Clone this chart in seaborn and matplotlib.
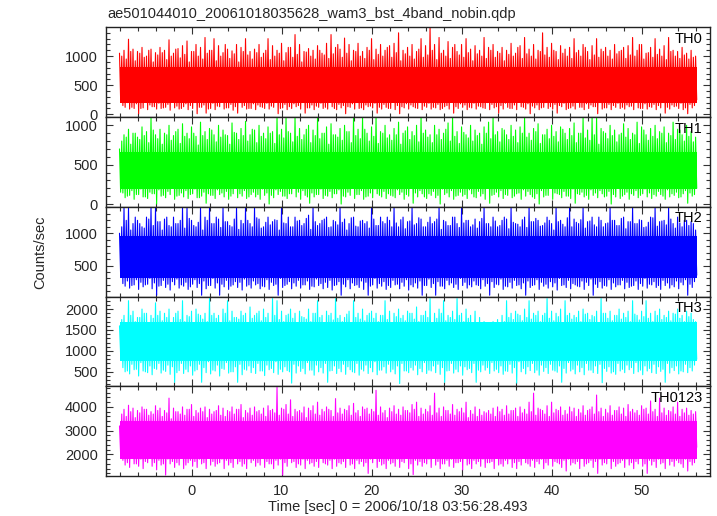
import numpy as np
import pandas as pd
import matplotlib
matplotlib.use("Agg")
import matplotlib.pyplot as plt
import seaborn as sns
from matplotlib.ticker import MultipleLocator

# ---------------- data ----------------
title = "ae501044010_20061018035628_wam3_bst_4band_nobin.qdp"
xlabel = "Time [sec] 0 = 2006/10/18 03:56:28.493"
ylabel = "Counts/sec"
bands = ["TH0", "TH1", "TH2", "TH3", "TH0123"]
colors = ["#ff0000", "#00ff00", "#0000ff", "#00ffff", "#ff00ff"]
bin_start = -8.0   # s, first 0.5 s bin
bin_width = 0.5    # s

# first half of each 0.5 s bin: peak (hi_a) and dip (lo_a)
th0_hi_a = [1050, 1100, 1290, 1120, 1080, 1150, 1000, 1120, 1060, 1150,
            1100, 1280, 1050, 1130, 1180, 1260, 1080, 1200, 1150, 1320,
            1100, 1300, 1180, 1060, 1120, 1090, 1200, 1150, 1300, 1080,
            1120, 1200, 1050, 1300, 1180, 1100, 1220, 1060, 1150, 1370,
            1200, 1080, 1130, 1100, 1180, 1050, 1220, 1370, 1150, 1120,
            1310, 1200, 1100, 1220, 1080, 1150, 1300, 1120, 1200, 1100,
            1180, 1220, 1400, 1100, 1150, 1200, 1080, 1300, 1180, 1490,
            1200, 1320, 1100, 1250, 1150, 1080, 1200, 1300, 1120, 1180,
            1100, 1320, 1150, 1200, 1080, 1150, 1100, 1220, 1050, 1180,
            1320, 1120, 1200, 1100, 1400, 1150, 1220, 1080, 1180, 1120,
            1150, 1300, 1100, 1200, 1080, 1180, 1300, 1120, 1150, 1100,
            1200, 1080, 1150, 1180, 1320, 1100, 1200, 1050, 1150, 1300,
            1120, 1180, 1320, 1100, 1080, 1150, 1050, 1100, 1000]
th0_lo_a = [250, 120, 90, 100, 10, 110, 80, 130, 90, 100,
            120, 70, 110, 90, 130, 80, 100, 10, 120, 20,
            100, 80, 130, 90, 110, 70, 20, 120, 90, 100,
            80, 130, 100, 90, 120, 10, 110, 80, 100, 130,
            90, 20, 110, 80, 120, 100, 90, 130, 80, 110,
            10, 120, 90, 100, 80, 130, 110, 20, 90, 120,
            100, 80, 10, 110, 90, 130, 100, 80, 120, 90,
            110, 80, 130, 90, 20, 100, 120, 80, 110, 90,
            130, 100, 80, 110, 20, 90, 120, 100, 80, 130,
            90, 10, 110, 80, 120, 100, 90, 20, 130, 80,
            110, 90, 120, 80, 100, 130, 10, 90, 110, 80,
            120, 100, 90, 130, 80, 110, 100, 90, 120, 80,
            110, 20, 90, 130, 100, 80, 10, 110, 250]
# second half of each 0.5 s bin: peak (hi_b) and dip (lo_b)
th0_hi_b = [1000, 950, 1080, 920, 1050, 980, 1100, 900, 1020, 1060,
            940, 1000, 1120, 970, 1030, 900, 1080, 1000, 950, 1050,
            1100, 920, 1000, 1200, 960, 1040, 900, 1080, 1020, 950,
            1060, 980, 1100, 940, 1000, 1050, 920, 1150, 980, 1030,
            900, 1070, 1000, 950, 1100, 1020, 960, 1040, 1200, 980,
            1050, 920, 1080, 1000, 960, 1100, 940, 1030, 1000, 1150,
            980, 1060, 920, 1040, 1000, 950, 1120, 980, 1020, 1100,
            940, 1050, 1000, 960, 1200, 1020, 980, 1060, 920, 1040,
            1000, 960, 1100, 980, 1050, 920, 1030, 1000, 1150, 960,
            1040, 1000, 950, 1080, 1020, 980, 1100, 940, 1050, 1000,
            960, 1060, 1000, 1150, 940, 1020, 980, 1080, 1000, 950,
            1040, 1100, 960, 1020, 1000, 1200, 950, 1060, 980, 1030,
            1000, 940, 1080, 1000, 960, 1020, 950, 980]
th0_lo_b = [150, 200, 120, 180, 100, 220, 160, 130, 190, 110,
            170, 210, 140, 100, 180, 150, 200, 120, 160, 90,
            190, 140, 210, 110, 170, 130, 200, 150, 100, 180,
            160, 120, 190, 140, 210, 100, 170, 130, 180, 150,
            200, 110, 160, 140, 190, 120, 210, 100, 170, 150,
            130, 180, 200, 110, 160, 140, 190, 120, 170, 100,
            210, 150, 130, 180, 160, 110, 200, 140, 190, 120,
            170, 100, 150, 210, 130, 180, 160, 120, 190, 140,
            110, 200, 170, 130, 150, 190, 100, 160, 210, 120,
            180, 140, 160, 110, 200, 130, 170, 150, 190, 100,
            140, 210, 120, 180, 160, 130, 200, 110, 170, 150,
            190, 120, 160, 140, 210, 100, 180, 130, 170, 150,
            200, 120, 160, 140, 190, 110, 170, 150]

th1_hi_a = [700, 880, 950, 900, 850, 980, 920, 1090, 880, 950,
            900, 1000, 870, 950, 1020, 900, 980, 860, 1040, 920,
            960, 880, 1000, 940, 870, 1030, 900, 960, 1050, 880,
            940, 1000, 900, 980, 920, 1100, 950, 1090, 900, 1100,
            960, 880, 1000, 940, 1100, 900, 980, 1020, 880, 960,
            1000, 920, 1100, 950, 1100, 900, 980, 1100, 920, 1000,
            880, 960, 1040, 900, 980, 920, 1000, 1100, 940, 880,
            1000, 950, 900, 1030, 1100, 920, 980, 880, 1000, 940,
            900, 980, 1040, 1100, 920, 960, 880, 1000, 940, 980,
            1100, 900, 960, 1020, 880, 950, 1000, 920, 980, 900,
            960, 1030, 900, 1100, 940, 1100, 1090, 960, 900, 1000,
            940, 880, 1020, 960, 900, 1040, 980, 880, 960, 1000,
            920, 980, 900, 1040, 950, 880, 1000, 920, 850]
th1_lo_a = [150, 80, 110, 60, 120, 90, 70, 130, 0, 100,
            80, 120, 60, 110, 90, 70, 130, 80, 100, 10,
            110, 70, 120, 90, 60, 130, 80, 100, 70, 120,
            90, 60, 110, 0, 80, 120, 100, 70, 130, 90,
            60, 110, 10, 90, 120, 70, 100, 80, 130, 0,
            90, 110, 70, 120, 60, 100, 80, 130, 90, 70,
            110, 80, 120, 60, 100, 10, 90, 130, 70, 110,
            80, 0, 120, 90, 60, 110, 100, 70, 130, 80,
            100, 60, 10, 120, 90, 70, 110, 80, 130, 60,
            100, 120, 70, 0, 90, 110, 60, 130, 80, 100,
            70, 10, 120, 90, 60, 110, 80, 130, 100, 0,
            90, 70, 120, 60, 110, 80, 130, 90, 70, 100,
            120, 60, 90, 110, 80, 130, 10, 100, 200]
th1_hi_b = [800, 850, 760, 900, 820, 870, 780, 940, 830, 760,
            880, 810, 920, 770, 860, 830, 900, 750, 870, 820,
            940, 790, 850, 880, 760, 910, 820, 870, 800, 950,
            780, 860, 830, 900, 770, 880, 840, 920, 790, 860,
            820, 950, 780, 870, 830, 900, 760, 880, 850, 810,
            920, 780, 870, 830, 950, 800, 860, 770, 900, 840,
            810, 880, 760, 930, 820, 870, 790, 900, 850, 780,
            880, 820, 950, 800, 860, 770, 910, 840, 800, 870,
            760, 900, 830, 880, 790, 940, 820, 860, 780, 900,
            850, 810, 920, 770, 880, 830, 860, 790, 950, 820,
            870, 780, 900, 840, 810, 880, 760, 920, 830, 870,
            790, 900, 850, 820, 880, 770, 940, 810, 860, 830,
            900, 780, 870, 820, 940, 800, 860, 790]
th1_lo_b = [140, 100, 170, 120, 190, 90, 150, 130, 180, 110,
            160, 200, 100, 140, 170, 120, 190, 80, 150, 130,
            110, 180, 140, 160, 100, 200, 130, 170, 90, 150,
            120, 190, 140, 110, 180, 160, 100, 130, 200, 150,
            170, 90, 140, 120, 190, 110, 160, 130, 180, 100,
            150, 200, 120, 170, 90, 140, 190, 110, 160, 130,
            100, 180, 150, 120, 200, 140, 170, 90, 130, 160,
            110, 190, 140, 170, 100, 150, 120, 180, 90, 160,
            130, 200, 110, 150, 170, 120, 190, 100, 140, 180,
            160, 90, 130, 170, 110, 200, 140, 120, 160, 100,
            190, 130, 150, 110, 180, 140, 170, 90, 160, 120,
            200, 100, 150, 130, 170, 110, 190, 140, 120, 160,
            100, 180, 130, 150, 90, 170, 140, 120]

th2_hi_a = [1000, 1390, 1390, 1150, 1200, 1100, 1250, 1390, 1390, 1180,
            1220, 1120, 1250, 1150, 1390, 1390, 1200, 1100, 1390, 1250,
            1390, 1150, 1220, 1390, 1180, 1100, 1390, 1200, 1390, 1150,
            1390, 1220, 1100, 1250, 1180, 1200, 1390, 1150, 1100, 1250,
            1200, 1150, 1280, 1390, 1120, 1200, 1250, 1100, 1180, 1390,
            1220, 1150, 1250, 1100, 1200, 1180, 1390, 1120, 1250, 1150,
            1200, 1390, 1100, 1250, 1180, 1390, 1150, 1220, 1100, 1250,
            1180, 1390, 1200, 1120, 1250, 1150, 1390, 1200, 1100, 1220,
            1180, 1390, 1150, 1250, 1100, 1200, 1220, 1390, 1150, 1100,
            1250, 1390, 1180, 1200, 1120, 1250, 1150, 1390, 1200, 1100,
            1390, 1220, 1150, 1390, 1180, 1250, 1100, 1200, 1150, 1390,
            1200, 1120, 1250, 1180, 1390, 1150, 1200, 1100, 1250, 1390,
            1180, 1200, 1390, 1150, 1250, 1100, 1200, 1180, 1050]
th2_lo_a = [350, 180, 150, 200, 130, 170, 210, 140, 40, 190,
            160, 120, 200, 150, 180, 130, 210, 160, 40, 140,
            190, 150, 40, 170, 130, 200, 160, 120, 180, 150,
            200, 140, 170, 130, 190, 40, 160, 210, 140, 180,
            150, 200, 130, 170, 190, 140, 160, 120, 200, 40,
            170, 140, 190, 160, 130, 40, 200, 150, 180, 130,
            160, 200, 140, 180, 120, 170, 150, 40, 190, 160,
            40, 180, 140, 200, 160, 130, 190, 150, 170, 200,
            140, 180, 40, 160, 200, 130, 170, 150, 190, 140,
            40, 160, 200, 130, 180, 150, 170, 120, 190, 160,
            140, 200, 170, 130, 190, 40, 160, 150, 180, 130,
            170, 200, 140, 160, 190, 130, 180, 150, 200, 160,
            130, 190, 150, 170, 140, 200, 40, 160, 350]
th2_hi_b = [1100, 1200, 1050, 1250, 1150, 1080, 1220, 1120, 1180, 1050,
            1250, 1100, 1150, 1200, 1080, 1230, 1120, 1170, 1050, 1200,
            1150, 1250, 1090, 1180, 1120, 1220, 1060, 1150, 1200, 1100,
            1240, 1080, 1170, 1130, 1210, 1050, 1160, 1250, 1100, 1190,
            1120, 1230, 1060, 1180, 1150, 1220, 1090, 1200, 1130, 1170,
            1050, 1240, 1110, 1190, 1150, 1080, 1220, 1120, 1180, 1250,
            1100, 1160, 1210, 1070, 1190, 1130, 1240, 1100, 1170, 1150,
            1220, 1060, 1180, 1120, 1250, 1090, 1160, 1200, 1130, 1080,
            1230, 1150, 1100, 1190, 1120, 1250, 1070, 1170, 1140, 1210,
            1090, 1180, 1230, 1110, 1160, 1200, 1050, 1180, 1140, 1240,
            1100, 1170, 1210, 1080, 1190, 1130, 1250, 1100, 1160, 1200,
            1120, 1230, 1070, 1180, 1150, 1210, 1090, 1170, 1240, 1110,
            1190, 1130, 1220, 1080, 1160, 1200, 1120, 1150]
th2_lo_b = [220, 260, 190, 280, 240, 200, 300, 230, 180, 270,
            210, 250, 290, 200, 240, 170, 280, 220, 260, 190,
            300, 230, 210, 270, 180, 250, 240, 290, 200, 260,
            220, 180, 280, 240, 210, 300, 190, 250, 230, 270,
            200, 260, 180, 290, 220, 240, 270, 190, 250, 210,
            280, 230, 200, 260, 240, 180, 300, 220, 250, 190,
            270, 210, 240, 280, 200, 230, 260, 190, 290, 220,
            250, 180, 270, 230, 210, 300, 240, 200, 260, 190,
            280, 220, 250, 210, 290, 180, 240, 270, 200, 230,
            260, 190, 280, 240, 210, 250, 230, 300, 200, 270,
            220, 180, 260, 240, 290, 210, 250, 190, 280, 230,
            200, 270, 240, 180, 260, 220, 300, 210, 250, 190,
            270, 230, 200, 260, 240, 280, 210, 250]

th3_hi_a = [1600, 1850, 2200, 1950, 1800, 2000, 1900, 1850, 2150, 1950,
            1900, 2000, 1800, 1950, 2200, 1850, 1950, 2000, 1850, 1900,
            2250, 1900, 1850, 2000, 2200, 1950, 1800, 1950, 1900, 2050,
            1850, 1950, 2000, 1900, 2250, 2200, 1950, 1850, 2000, 1900,
            1950, 1800, 2000, 1900, 2200, 1850, 1950, 1900, 2250, 1850,
            1800, 1950, 2200, 1900, 2000, 1850, 1950, 1900, 1850, 2200,
            1950, 1900, 2000, 1850, 1950, 1900, 2050, 1850, 1950, 2250,
            1900, 2000, 2200, 1850, 1950, 2250, 1900, 2000, 1850, 1950,
            1800, 1700, 1650, 1700, 1750, 1850, 2200, 1900, 1950, 1850,
            2000, 2200, 1900, 1950, 1850, 2250, 1950, 1900, 2000, 2200,
            1900, 1850, 1950, 2000, 1900, 1850, 1950, 2250, 1900, 1950,
            1850, 2000, 1900, 1950, 2200, 1850, 1950, 2200, 1900, 1950,
            2000, 1850, 1950, 1900, 2000, 1850, 1950, 1900, 1700]
th3_lo_a = [900, 500, 450, 550, 400, 520, 480, 430, 560, 470,
            510, 440, 250, 530, 460, 500, 420, 550, 250, 480,
            450, 520, 400, 560, 470, 500, 250, 430, 540, 480,
            460, 520, 410, 550, 480, 440, 500, 530, 230, 470,
            510, 450, 540, 420, 500, 470, 250, 530, 460, 500,
            440, 550, 480, 420, 520, 460, 500, 430, 540, 470,
            500, 450, 220, 520, 480, 540, 430, 500, 460, 520,
            480, 440, 250, 530, 470, 500, 420, 550, 480, 250,
            500, 540, 460, 520, 480, 440, 510, 470, 230, 500,
            450, 530, 480, 420, 510, 460, 540, 490, 250, 470,
            520, 450, 500, 430, 540, 480, 460, 240, 510, 470,
            440, 520, 480, 550, 460, 500, 430, 520, 480, 460,
            510, 250, 470, 530, 450, 500, 480, 520, 800]
th3_hi_b = [1750, 1650, 1850, 1700, 1800, 1900, 1680, 1780, 1850, 1720,
            1800, 1650, 1900, 1750, 1700, 1820, 1680, 1880, 1760, 1700,
            1850, 1780, 1650, 1900, 1720, 1800, 1760, 1850, 1680, 1780,
            1900, 1720, 1800, 1680, 1850, 1750, 1700, 1880, 1780, 1650,
            1820, 1760, 1700, 1900, 1800, 1680, 1850, 1740, 1780, 1700,
            1880, 1650, 1800, 1760, 1720, 1900, 1780, 1700, 1850, 1750,
            1680, 1820, 1780, 1720, 1900, 1760, 1700, 1850, 1800, 1680,
            1780, 1900, 1720, 1800, 1750, 1850, 1700, 1780, 1650, 1600,
            1550, 1600, 1580, 1620, 1650, 1700, 1800, 1750, 1880, 1720,
            1800, 1760, 1850, 1700, 1900, 1780, 1720, 1820, 1680, 1850,
            1760, 1800, 1700, 1880, 1750, 1820, 1680, 1900, 1780, 1720,
            1850, 1760, 1800, 1700, 1880, 1740, 1820, 1780, 1700, 1850,
            1750, 1800, 1720, 1880, 1780, 1700, 1820, 1750]
th3_lo_b = [600, 520, 680, 560, 720, 500, 640, 580, 700, 540,
            660, 620, 480, 700, 560, 640, 520, 680, 600, 740,
            540, 660, 580, 720, 500, 620, 680, 560, 640, 600,
            700, 520, 660, 580, 740, 560, 620, 500, 680, 640,
            580, 720, 540, 660, 600, 700, 520, 640, 580, 680,
            620, 500, 700, 560, 660, 600, 740, 540, 620, 680,
            560, 640, 700, 520, 600, 660, 580, 720, 540, 640,
            680, 600, 520, 700, 560, 640, 620, 580, 700, 540,
            660, 600, 720, 560, 640, 520, 680, 600, 740, 580,
            620, 700, 540, 660, 600, 680, 520, 640, 580, 720,
            560, 660, 600, 700, 540, 640, 680, 580, 620, 500,
            700, 560, 660, 600, 720, 540, 640, 580, 680, 620,
            560, 700, 600, 640, 520, 680, 600, 660]

th0123_hi_a = [3200, 3900, 4070, 3950, 3850, 4000, 3900, 3800, 4050, 3950,
               3850, 4370, 3950, 3800, 4000, 3900, 4100, 3850, 3950, 4000,
               3900, 3800, 4050, 3950, 3850, 4000, 3900, 4100, 3850, 3950,
               4000, 3850, 3950, 4050, 3900, 4830, 3950, 4100, 4300, 3900,
               3850, 4000, 3950, 4050, 4200, 3900, 4000, 3850, 4350, 3950,
               3900, 4050, 4150, 3850, 4000, 3950, 3900, 4700, 4000, 3850,
               3950, 4050, 3900, 4000, 3850, 4100, 4200, 3950, 3900, 4050,
               4580, 3950, 4000, 3850, 4100, 3900, 3950, 4200, 3850, 4000,
               3900, 3800, 3850, 3950, 4000, 3900, 4050, 3850, 3950, 4000,
               3900, 4200, 4580, 3950, 3850, 4050, 4200, 3900, 4000, 3850,
               4000, 3950, 3900, 4050, 3850, 4000, 4500, 3950, 3900, 4050,
               3850, 4000, 3950, 4100, 3900, 3850, 4050, 3950, 4250, 3900,
               4370, 3950, 3850, 4000, 4200, 3900, 3950, 3850, 3800]
th0123_lo_a = [2000, 1550, 1450, 1600, 1500, 1400, 1650, 1500, 1350, 1550,
               1130, 1600, 1450, 1550, 1400, 1650, 1500, 1450, 1600, 1400,
               1550, 1500, 1650, 1400, 1550, 1450, 1600, 1500, 1400, 1650,
               1500, 1550, 1450, 1600, 1400, 1550, 1130, 1500, 1650, 1450,
               1550, 1400, 1600, 1500, 1450, 1650, 1550, 1400, 1500, 1600,
               1450, 1550, 1400, 1600, 1500, 1200, 1650, 1450, 1550, 1400,
               1600, 1500, 1450, 1650, 1400, 1150, 1550, 1500, 1600, 1450,
               1550, 1400, 1600, 1500, 1450, 1650, 1350, 1550, 1400, 1600,
               1500, 1450, 1650, 1400, 1550, 1500, 1600, 1450, 1400, 1550,
               1650, 1500, 1450, 1600, 1400, 1550, 1500, 1650, 1450, 1300,
               1550, 1600, 1400, 1500, 1650, 1450, 1200, 1550, 1600, 1400,
               1500, 1650, 1450, 1550, 1400, 1600, 1500, 1200, 1550, 1450,
               1600, 1400, 1550, 1500, 1650, 1450, 1300, 1550, 2300]
th0123_hi_b = [3700, 3600, 3800, 3550, 3750, 3900, 3650, 3700, 3850, 3600,
               3750, 3500, 3800, 3700, 3650, 3900, 3600, 3750, 3800, 3550,
               3700, 3850, 3650, 3600, 3800, 3700, 3900, 3550, 3750, 3650,
               3800, 3700, 3600, 3850, 3750, 3650, 3900, 3700, 3600, 3800,
               3750, 3550, 3850, 3700, 3650, 3800, 3900, 3600, 3750, 3700,
               3850, 3650, 3750, 3600, 3900, 3700, 3800, 3650, 3750, 3550,
               3800, 3700, 3650, 3850, 3750, 3900, 3600, 3700, 3800, 3650,
               3750, 3600, 3850, 3700, 3650, 3800, 3750, 3550, 3700, 3600,
               3650, 3750, 3700, 3600, 3800, 3650, 3700, 3850, 3600, 3750,
               3700, 3800, 3650, 3900, 3700, 3600, 3750, 3850, 3650, 3700,
               3800, 3600, 3750, 3650, 3900, 3700, 3800, 3600, 3750, 3650,
               3850, 3700, 3600, 3800, 3750, 3650, 3900, 3700, 3800, 3600,
               3750, 3650, 3800, 3700, 3600, 3750, 3650, 3700]
th0123_lo_b = [1750, 1650, 1850, 1600, 1800, 1700, 1900, 1650, 1750, 1600,
               1800, 1700, 1650, 1850, 1550, 1750, 1700, 1800, 1650, 1900,
               1700, 1600, 1800, 1750, 1650, 1850, 1700, 1600, 1800, 1750,
               1650, 1900, 1700, 1600, 1750, 1800, 1650, 1850, 1700, 1600,
               1800, 1750, 1650, 1700, 1900, 1600, 1750, 1800, 1650, 1700,
               1850, 1600, 1750, 1700, 1650, 1800, 1900, 1700, 1600, 1750,
               1650, 1800, 1700, 1850, 1600, 1750, 1700, 1650, 1800, 1900,
               1700, 1600, 1750, 1800, 1650, 1700, 1850, 1600, 1750, 1700,
               1800, 1650, 1700, 1900, 1600, 1750, 1800, 1650, 1700, 1850,
               1600, 1750, 1700, 1800, 1650, 1900, 1700, 1600, 1750, 1800,
               1650, 1700, 1850, 1600, 1750, 1700, 1800, 1650, 1900, 1700,
               1600, 1750, 1800, 1650, 1700, 1850, 1600, 1750, 1700, 1800,
               1650, 1900, 1700, 1750, 1600, 1800, 1700, 1650]

# dense (solid-looking) central part of each band
core_lo = [200, 190, 300, 750, 1800]
core_hi = [820, 660, 960, 1700, 3400]

series = {
    "TH0": (th0_hi_a, th0_lo_a, th0_hi_b, th0_lo_b),
    "TH1": (th1_hi_a, th1_lo_a, th1_hi_b, th1_lo_b),
    "TH2": (th2_hi_a, th2_lo_a, th2_hi_b, th2_lo_b),
    "TH3": (th3_hi_a, th3_lo_a, th3_hi_b, th3_lo_b),
    "TH0123": (th0123_hi_a, th0123_lo_a, th0123_hi_b, th0123_lo_b),
}

y_limits = [(-47, 1495), (-35, 1105), (20, 1410), (155, 2300), (1090, 4870)]
y_major = [500, 500, 500, 500, 1000]
y_minor = [100, 100, 100, 100, 200]
x_limits = (-9.5, 57.6)


def light_curve(hi_a, lo_a, hi_b, lo_b):
    """Order the read peaks/dips in time: 4 samples per 0.5 s bin."""
    times, rates = [], []
    for i in range(len(hi_a)):
        t0 = bin_start + i * bin_width
        times += [t0, t0 + bin_width / 4]
        rates += [hi_a[i], lo_a[i]]
        if i < len(hi_b):
            times += [t0 + bin_width / 2, t0 + 3 * bin_width / 4]
            rates += [hi_b[i], lo_b[i]]
    return pd.DataFrame({"time": times, "rate": rates})


# ---------------- figure ----------------
sns.set_style("ticks")
plt.rcParams["font.family"] = ["Liberation Sans", "DejaVu Sans"]
plt.rcParams["axes.linewidth"] = 1.0

fig = plt.figure(figsize=(7.17, 5.16), dpi=100)
gs = fig.add_gridspec(5, 1, left=106 / 717, right=710 / 717,
                      top=1 - 27.3 / 516, bottom=1 - 476 / 516, hspace=0)

axes = []
for k, band in enumerate(bands):
    ax = fig.add_subplot(gs[k, 0], sharex=axes[0] if axes else None)
    axes.append(ax)
    df = light_curve(*series[band])
    ax.fill_between([df["time"].iloc[0] + 0.05, df["time"].iloc[-1]],
                    core_lo[k], core_hi[k], color=colors[k], lw=0, zorder=1)
    sns.lineplot(data=df, x="time", y="rate", ax=ax, color=colors[k],
                 lw=0.8, estimator=None, sort=False, zorder=2)

    ax.set_xlim(*x_limits)
    ax.set_ylim(*y_limits[k])
    ax.yaxis.set_major_locator(MultipleLocator(y_major[k]))
    ax.yaxis.set_minor_locator(MultipleLocator(y_minor[k]))
    ax.xaxis.set_major_locator(MultipleLocator(10))
    ax.xaxis.set_minor_locator(MultipleLocator(2))
    ax.tick_params(which="both", direction="in", top=True, right=True,
                   color="#333333", width=0.8)
    ax.tick_params(which="major", length=5, labelsize=10.5, pad=6)
    ax.tick_params(which="minor", length=3)
    ax.set_xlabel("")
    ax.set_ylabel("")
    for s in ax.spines.values():
        s.set_color("#222222")
        s.set_zorder(5)
    ax.text(0.988, 0.95, band, transform=ax.transAxes, ha="right", va="top",
            fontsize=10.5, color="black", zorder=6)
    if k < len(bands) - 1:
        ax.tick_params(labelbottom=False)

fig.text(107 / 717, 1 - 14 / 516, title, ha="left", va="center", fontsize=10.5)
fig.text(40 / 717, 1 - 252 / 516, ylabel, ha="center", va="center",
         rotation=90, fontsize=10.5)
fig.text(398 / 717, 1 - 507 / 516, xlabel, ha="center", va="center", fontsize=10.5)

fig.savefig("out.png", dpi=100, facecolor="white")
